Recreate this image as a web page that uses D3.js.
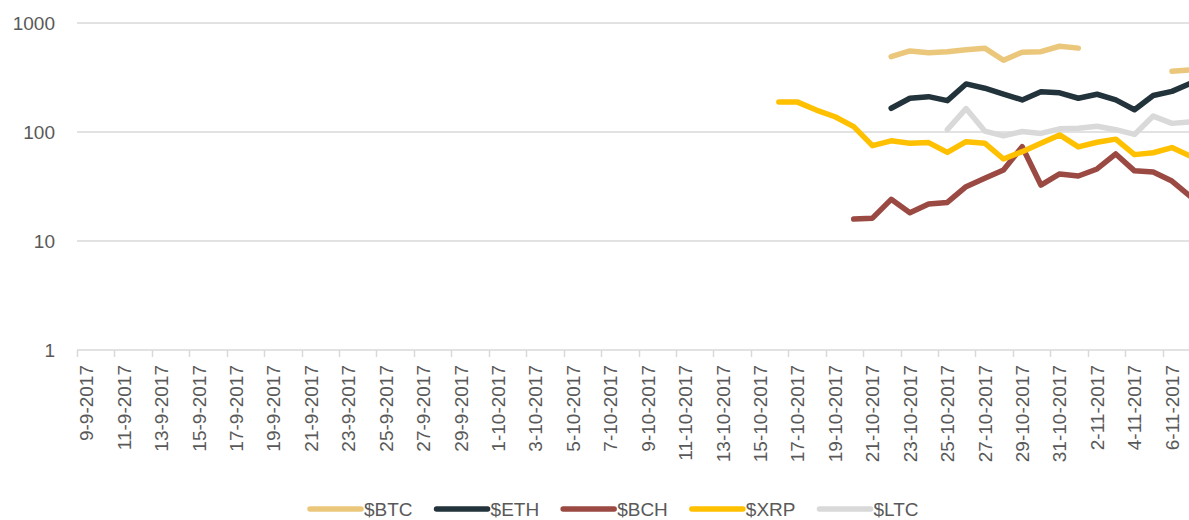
<!DOCTYPE html>
<html>
<head>
<meta charset="utf-8">
<script src="https://cdn.jsdelivr.net/npm/d3@7"></script>
<style>
  html, body { margin: 0; padding: 0; background: #fff; }
  svg { display: block; }
  text { font-family: "Liberation Sans", Arial, sans-serif; fill: #595959; }
</style>
</head>
<body>
<svg id="chart" width="1189" height="520"></svg>
<script>
// ---- DATA ----
const dates = [
  "9-9-2017","10-9-2017","11-9-2017","12-9-2017","13-9-2017","14-9-2017","15-9-2017","16-9-2017",
  "17-9-2017","18-9-2017","19-9-2017","20-9-2017","21-9-2017","22-9-2017","23-9-2017","24-9-2017",
  "25-9-2017","26-9-2017","27-9-2017","28-9-2017","29-9-2017","30-9-2017","1-10-2017","2-10-2017",
  "3-10-2017","4-10-2017","5-10-2017","6-10-2017","7-10-2017","8-10-2017","9-10-2017","10-10-2017",
  "11-10-2017","12-10-2017","13-10-2017","14-10-2017","15-10-2017","16-10-2017","17-10-2017","18-10-2017",
  "19-10-2017","20-10-2017","21-10-2017","22-10-2017","23-10-2017","24-10-2017","25-10-2017","26-10-2017",
  "27-10-2017","28-10-2017","29-10-2017","30-10-2017","31-10-2017","1-11-2017","2-11-2017","3-11-2017",
  "4-11-2017","5-11-2017","6-11-2017","7-11-2017"
];
// every second date carries a tick label
const tickLabels = dates.filter((d, i) => i % 2 === 0);
const yTicks = [1, 10, 100, 1000];

// series values, aligned to dates starting at "16-10-2017"
const seriesStart = "16-10-2017";
const btc = [null,null,null,null,null,null,491,554,534,545,567,588,455,540,545,612,588,null,null,null,null,360,371];
const eth = [null,null,null,null,null,null,165,204,211,194,276,252,223,197,234,229,204,222,197,160,216,236,280];
const bch = [null,null,null,null,15.9,16.2,24.1,18.2,21.9,22.6,31.5,37.6,44.8,73.3,32.6,41.2,39.5,45.8,62.9,44,43,35.5,25.5];
const xrp = [188,188,159,138,112,75,83,79,80,65,81.5,79,56.5,66,79,94,73,80.5,86,62,64.5,72,60];
const ltc = [null,null,null,null,null,null,null,null,null,105,164,102,92,101,97,107,108,113,105,95,140,120,124];

const seriesNames = ["$BTC", "$ETH", "$BCH", "$XRP", "$LTC"];
const seriesColors = ["#EBC77C", "#22333B", "#9A4A42", "#FFC000", "#D9D9D9"];
const seriesValues = [btc, eth, bch, xrp, ltc];

// ---- LAYOUT ----
const svg = d3.select("#chart");
const plot = { left: 77, right: 1200, top: 23, bottom: 350 };

const x = d3.scaleBand().domain(dates).range([plot.left, plot.right]).padding(0);
const y = d3.scaleLog().domain([1, 1000]).range([plot.bottom, plot.top]);

// gridlines
svg.append("g").selectAll("line")
  .data(yTicks)
  .join("line")
  .attr("x1", plot.left).attr("x2", plot.right)
  .attr("y1", d => y(d)).attr("y2", d => y(d))
  .attr("stroke", "#D9D9D9").attr("stroke-width", 1.5);

// y-axis labels
svg.append("g").selectAll("text")
  .data(yTicks)
  .join("text")
  .attr("x", 55).attr("y", d => y(d))
  .attr("dy", "0.36em")
  .attr("text-anchor", "end")
  .style("font-size", "19px")
  .text(d => d);

// x-axis tick marks (category boundaries every 2 days)
svg.append("g").selectAll("line")
  .data(tickLabels)
  .join("line")
  .attr("x1", d => Math.round(x(d)) + 0.5).attr("x2", d => Math.round(x(d)) + 0.5)
  .attr("y1", plot.bottom).attr("y2", plot.bottom + 7)
  .attr("stroke", "#D9D9D9").attr("stroke-width", 1.5);

// x-axis tick labels (rotated)
svg.append("g").selectAll("text")
  .data(tickLabels)
  .join("text")
  .attr("transform", d => `translate(${x(d) + x.bandwidth() / 2},${plot.bottom + 15}) rotate(-90)`)
  .attr("dy", "0.36em")
  .attr("text-anchor", "end")
  .style("font-size", "19px")
  .text(d => d);

// lines
const startIdx = dates.indexOf(seriesStart);
const line = d3.line()
  .defined(d => d.v != null)
  .x(d => x(d.date) + x.bandwidth() / 2)
  .y(d => y(d.v));

seriesValues.forEach((vals, s) => {
  const pts = vals.map((v, i) => ({ date: dates[startIdx + i], v }));
  svg.append("path")
    .datum(pts)
    .attr("d", line)
    .attr("fill", "none")
    .attr("stroke", seriesColors[s])
    .attr("stroke-width", 5.5)
    .attr("stroke-linejoin", "round")
    .attr("stroke-linecap", "round");
});

// legend
const legend = svg.append("g");
let lx = 310;
const ly = 509;
seriesNames.forEach((name, s) => {
  legend.append("line")
    .attr("x1", lx).attr("x2", lx + 51)
    .attr("y1", ly).attr("y2", ly)
    .attr("stroke", seriesColors[s]).attr("stroke-width", 5.5)
    .attr("stroke-linecap", "round");
  const t = legend.append("text")
    .attr("x", lx + 54).attr("y", ly)
    .attr("dy", "0.36em")
    .style("font-size", "19px")
    .text(name);
  lx = lx + 54 + t.node().getComputedTextLength() + 24;
});
</script>
</body>
</html>
